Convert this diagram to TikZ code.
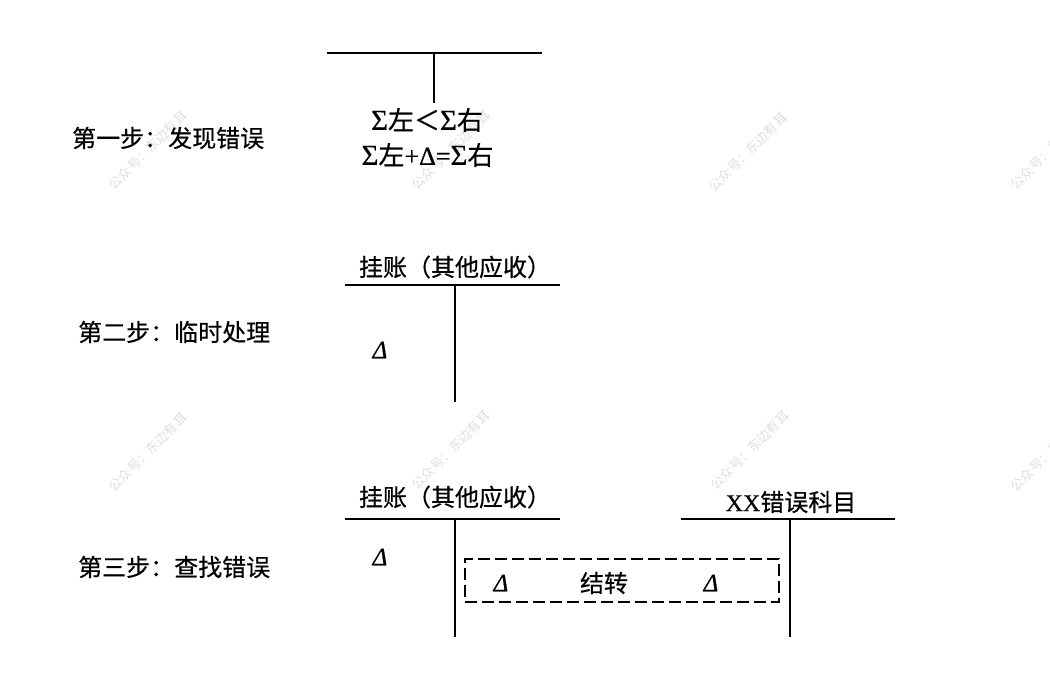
\documentclass[tikz,border=0pt]{standalone}
\usepackage{fontspec}
\newfontfamily\cjk{Noto Sans CJK SC}
\newfontfamily\cjkb[FakeBold=0.5]{Noto Sans CJK SC}
\newfontfamily\tms{Liberation Serif}
\newfontfamily\tmsb[FakeBold=0.5]{Liberation Serif}
\newfontfamily\tmsi[FakeBold=0.6]{Liberation Serif Italic}
\newcommand{\dl}{{\tmsi Δ}}
\newcommand{\sg}{{\tmsb\fontsize{29}{30}\selectfont Σ}}
\begin{document}
\begin{tikzpicture}[x=1pt,y=-1pt,
  lbl/.style={font=\cjkb\fontsize{24}{26}\selectfont, anchor=west, inner sep=0},
  ttl/.style={font=\cjkb\fontsize{24}{26}\selectfont, inner sep=0},
  eqs/.style={font=\cjkb\fontsize{26}{28}\selectfont, inner sep=0},
  dlt/.style={font=\fontsize{25}{27}\selectfont, inner sep=0},
  bar/.style={line width=2pt},
  vbar/.style={line width=1.8pt},
  wm/.style={font=\cjk\fontsize{13}{14}\selectfont, text=black!13, rotate=45, inner sep=0}]
\useasboundingbox (0,0) rectangle (1050,693);
% watermarks
\foreach \i/\x/\y in {1/148/150,2/451/150,3/748/152,4/1050/150,5/148/452,6/451/450,7/750/450,8/1050/452}
  \node[wm] (wm\i) at (\x,\y) {公众号：东边有耳};
% step labels
\node[lbl] (s1) at (72,138) {第一步：发现错误};
\node[lbl] (s2) at (78,332) {第二步：临时处理};
\node[lbl] (s3) at (78,567) {第三步：查找错误};
% step 1
\coordinate (t1l) at (327,53); \coordinate (t1r) at (542,53);
\coordinate (t1m) at (434,53); \coordinate (t1b) at (434,103);
\draw[bar] (t1l) -- (t1r);
\draw[line width=1.2pt] (t1m) -- (t1b);
\node[eqs] (eq1) at (427,120) {\sg 左＜\sg 右};
\node[eqs] (eq2) at (427.5,155) {\sg 左{\tmsb +Δ=}\sg 右};
% step 2
\node[ttl] (h2) at (455,267) {挂账（其他应收）};
\coordinate (t2l) at (345,285); \coordinate (t2r) at (560,285);
\coordinate (t2m) at (455,285); \coordinate (t2b) at (455,402);
\draw[bar] (t2l) -- (t2r);
\draw[vbar] (t2m) -- (t2b);
\node[dlt] (d2) at (380,350) {\dl};
% step 3
\node[ttl] (h3) at (455,497) {挂账（其他应收）};
\coordinate (t3l) at (345,519); \coordinate (t3r) at (560,519);
\coordinate (t3m) at (455,519); \coordinate (t3b) at (455,637);
\draw[bar] (t3l) -- (t3r);
\draw[vbar] (t3m) -- (t3b);
\node[dlt] (d3) at (380,557) {\dl};
\node[ttl] (h4) at (791,502) {{\tmsb XX}错误科目};
\coordinate (t4l) at (681,519); \coordinate (t4r) at (895,519);
\coordinate (t4m) at (790,519); \coordinate (t4b) at (790,637);
\draw[bar] (t4l) -- (t4r);
\draw[vbar] (t4m) -- (t4b);
\node[draw, line width=1.5pt, dash pattern=on 12pt off 5pt, minimum width=314pt, minimum height=43pt, inner sep=0] (box) at (622,580.5) {};
\node[dlt] (d4) at (501,583) {\dl};
\node[ttl] (jz) at (604,583) {结转};
\node[dlt] (d5) at (711,583) {\dl};
\end{tikzpicture}
\end{document}
